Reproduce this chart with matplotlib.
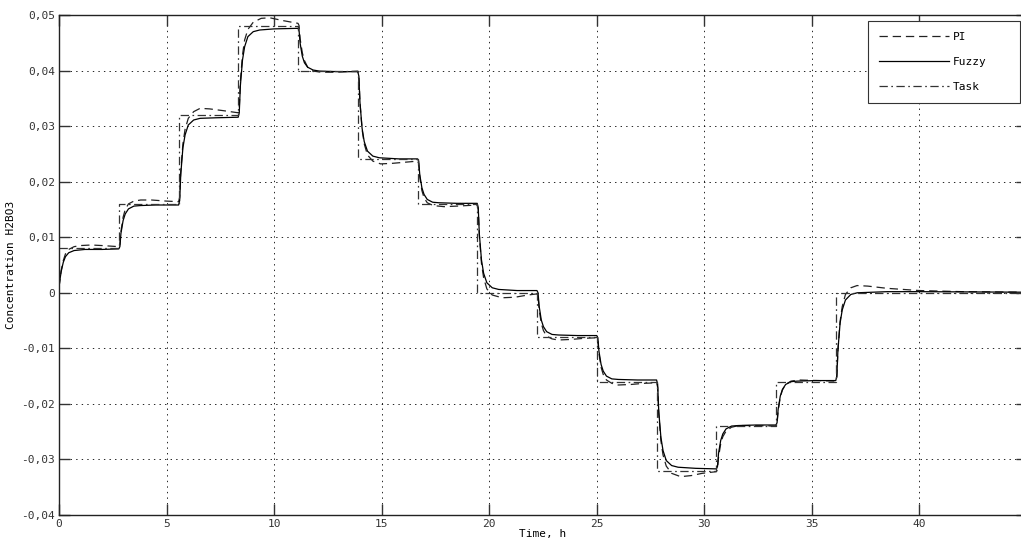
import numpy as np
import matplotlib
matplotlib.use("Agg")
import matplotlib.pyplot as plt
from matplotlib.ticker import FuncFormatter, MultipleLocator

# --- Data ---
TASK_TIME = [0.0, 2.78, 5.56, 8.33, 11.11, 13.89, 16.67, 19.44, 22.22,
             25.0, 27.78, 30.56, 33.33, 36.11, 45.0]
TASK_LEVEL = [0.008, 0.016, 0.032, 0.048, 0.040, 0.024, 0.016, 0.0, -0.008,
              -0.016, -0.032, -0.024, -0.016, 0.0, 0.0]

FUZZY_POINTS = [
    (0.0, 0.0010), (0.05, 0.0025), (0.1, 0.0038), (0.2, 0.0055), (0.3, 0.0065),
    (0.45, 0.0072), (0.7, 0.0076), (1.2, 0.0078), (2.0, 0.0078), (2.78, 0.0079),
    (2.83, 0.0083), (2.88, 0.0107), (2.98, 0.0130), (3.08, 0.0142), (3.23, 0.0151),
    (3.48, 0.0156), (3.78, 0.0157), (4.5, 0.0158), (5.56, 0.0158),
    (5.61, 0.0166), (5.66, 0.0213), (5.76, 0.0261), (5.86, 0.0284), (6.01, 0.0302),
    (6.26, 0.0311), (6.56, 0.0314), (7.3, 0.0315), (8.33, 0.0316),
    (8.38, 0.0324), (8.43, 0.0372), (8.53, 0.0419), (8.63, 0.0443), (8.78, 0.0461),
    (9.03, 0.0470), (9.33, 0.0473), (10.0, 0.0475), (11.11, 0.0476),
    (11.16, 0.0472), (11.21, 0.0449), (11.31, 0.0426), (11.41, 0.0414), (11.56, 0.0406),
    (11.81, 0.0401), (12.11, 0.0399), (13.0, 0.0398), (13.89, 0.0398),
    (13.94, 0.0390), (13.99, 0.0343), (14.09, 0.0296), (14.19, 0.0272), (14.34, 0.0255),
    (14.59, 0.0246), (14.89, 0.0243), (15.8, 0.0241), (16.67, 0.0241),
    (16.72, 0.0237), (16.77, 0.0213), (16.87, 0.0189), (16.97, 0.0177), (17.12, 0.0168),
    (17.37, 0.0163), (17.67, 0.0162), (18.5, 0.0161), (19.44, 0.0161),
    (19.49, 0.0153), (19.54, 0.0106), (19.64, 0.0059), (19.74, 0.0035), (19.89, 0.0018),
    (20.14, 0.0009), (20.44, 0.0006), (21.3, 0.0004), (22.22, 0.0004),
    (22.27, 0.0000), (22.32, -0.0024), (22.42, -0.0049), (22.52, -0.0061), (22.67, -0.0070),
    (22.92, -0.0075), (23.22, -0.0076), (24.1, -0.0077), (25.0, -0.0077),
    (25.05, -0.0081), (25.10, -0.0105), (25.20, -0.0129), (25.30, -0.0141), (25.45, -0.0150),
    (25.70, -0.0155), (26.0, -0.0156), (26.9, -0.0157), (27.78, -0.0157),
    (27.83, -0.0165), (27.88, -0.0213), (27.98, -0.0260), (28.08, -0.0284), (28.23, -0.0302),
    (28.48, -0.0311), (28.78, -0.0314), (29.6, -0.0316), (30.56, -0.0317),
    (30.61, -0.0313), (30.66, -0.0289), (30.76, -0.0266), (30.86, -0.0254), (31.01, -0.0245),
    (31.26, -0.0240), (31.56, -0.0239), (32.4, -0.0238), (33.33, -0.0238),
    (33.38, -0.0234), (33.43, -0.0210), (33.53, -0.0186), (33.63, -0.0174), (33.78, -0.0165),
    (34.03, -0.0160), (34.33, -0.0159), (35.2, -0.0158), (36.11, -0.0158),
    (36.16, -0.0150), (36.21, -0.0103), (36.31, -0.0055), (36.41, -0.0031), (36.56, -0.0013),
    (36.81, -0.0003), (37.11, 0.0000), (38.5, 0.0002), (40.0, 0.0002), (45.0, 0.0001),
]

PI_POINTS = [
    (0.0, 0.0010), (0.05, 0.0026), (0.1, 0.0040), (0.2, 0.0058), (0.3, 0.0070),
    (0.45, 0.0078), (0.7, 0.0083), (1.0, 0.0085), (1.5, 0.0086), (2.0, 0.0085), (2.78, 0.0083),
    (2.83, 0.0087), (2.88, 0.0110), (2.98, 0.0136), (3.08, 0.0150), (3.23, 0.0160),
    (3.48, 0.0165), (3.8, 0.0167), (4.3, 0.0167), (5.0, 0.0165), (5.56, 0.0164),
    (5.61, 0.0172), (5.66, 0.0218), (5.76, 0.0268), (5.86, 0.0294), (6.01, 0.0314),
    (6.26, 0.0326), (6.56, 0.0332), (7.0, 0.0331), (7.6, 0.0328), (8.33, 0.0324),
    (8.38, 0.0332), (8.43, 0.0380), (8.53, 0.0428), (8.63, 0.0455), (8.78, 0.0474),
    (9.03, 0.0487), (9.4, 0.0494), (9.8, 0.0495), (10.4, 0.0490), (11.11, 0.0485),
    (11.16, 0.0481), (11.21, 0.0457), (11.31, 0.0432), (11.41, 0.0418), (11.56, 0.0406),
    (11.81, 0.0399), (12.2, 0.0397), (12.8, 0.0397), (13.4, 0.0398), (13.89, 0.0399),
    (13.94, 0.0391), (13.99, 0.0344), (14.09, 0.0294), (14.19, 0.0268), (14.34, 0.0248),
    (14.59, 0.0237), (14.95, 0.0232), (15.5, 0.0233), (16.1, 0.0235), (16.67, 0.0237),
    (16.72, 0.0233), (16.77, 0.0209), (16.87, 0.0184), (16.97, 0.0171), (17.12, 0.0162),
    (17.4, 0.0157), (17.9, 0.0155), (18.5, 0.0156), (19.44, 0.0158),
    (19.49, 0.0150), (19.54, 0.0103), (19.64, 0.0053), (19.74, 0.0027), (19.89, 0.0007),
    (20.14, -0.0004), (20.6, -0.0009), (21.2, -0.0008), (21.8, -0.0004), (22.22, -0.0002),
    (22.27, -0.0006), (22.32, -0.0030), (22.42, -0.0055), (22.52, -0.0068), (22.67, -0.0078),
    (22.92, -0.0083), (23.2, -0.0085), (23.8, -0.0084), (24.4, -0.0082), (25.0, -0.0081),
    (25.05, -0.0085), (25.10, -0.0109), (25.20, -0.0134), (25.30, -0.0147), (25.45, -0.0157),
    (25.70, -0.0163), (26.0, -0.0166), (26.6, -0.0165), (27.2, -0.0163), (27.78, -0.0162),
    (27.83, -0.0170), (27.88, -0.0217), (27.98, -0.0266), (28.08, -0.0292), (28.23, -0.0312),
    (28.48, -0.0325), (28.9, -0.0331), (29.4, -0.0329), (29.9, -0.0325), (30.56, -0.0322),
    (30.61, -0.0318), (30.66, -0.0296), (30.76, -0.0272), (30.86, -0.0259), (31.01, -0.0249),
    (31.26, -0.0242), (31.6, -0.0239), (32.2, -0.0239), (33.33, -0.0240),
    (33.38, -0.0236), (33.43, -0.0213), (33.53, -0.0188), (33.63, -0.0175), (33.78, -0.0165),
    (34.03, -0.0159), (34.4, -0.0157), (35.2, -0.0158), (36.11, -0.0159),
    (36.16, -0.0151), (36.21, -0.0104), (36.31, -0.0052), (36.41, -0.0025), (36.56, -0.0003),
    (36.81, 0.0009), (37.1, 0.0013), (37.6, 0.0012), (38.5, 0.0008), (40.0, 0.0004),
    (42.0, 0.0002), (45.0, 0.0001),
]

FONT = "DejaVu Sans Mono"
plt.rcParams["lines.scale_dashes"] = False


def comma_fmt(v, pos):
    v = round(v, 4)
    if v == 0:
        return "0"
    return ("%g" % v).replace(".", ",")


def main():
    fig = plt.figure(figsize=(10.21, 5.44), dpi=100)
    # the axes runs slightly past the right edge of the picture, as in the reference
    ax = fig.add_axes([59 / 1021, 1 - 515 / 544, 968 / 1021, 500 / 544])

    pi = np.array(PI_POINTS)
    fz = np.array(FUZZY_POINTS)

    ax.plot(pi[:, 0], pi[:, 1], color="#222222", lw=0.9, dashes=(6, 3.5), label="PI")
    ax.plot(fz[:, 0], fz[:, 1], color="black", lw=0.9, label="Fuzzy")
    ax.plot(TASK_TIME, TASK_LEVEL, color="#333333", lw=0.9, drawstyle="steps-post",
            dashes=(6, 2.5, 1.2, 2.5), label="Task")

    ax.set_xlim(0, 45)
    ax.set_ylim(-0.04, 0.05)
    ax.xaxis.set_major_locator(MultipleLocator(5))
    ax.yaxis.set_major_locator(MultipleLocator(0.01))
    ax.yaxis.set_major_formatter(FuncFormatter(comma_fmt))

    ax.grid(True, color="black", linestyle=(0, (1, 3)), linewidth=0.6)
    ax.tick_params(direction="in", length=8, width=1, top=True, right=True,
                   labelsize=8, colors="#333333", pad=3)
    for lab in ax.get_xticklabels() + ax.get_yticklabels():
        lab.set_family(FONT)
    for sp in ax.spines.values():
        sp.set_linewidth(1.0)
        sp.set_color("#222222")

    ax.set_xlabel("Time, h", family=FONT, fontsize=8, labelpad=0)
    ax.set_ylabel("Concentration H2BO3", family=FONT, fontsize=8, labelpad=4)

    # legend box stretched to the reference's width (x 868..1020 px)
    leg = ax.legend(loc="upper left", mode="expand",
                    bbox_to_anchor=(868 / 1021, 1 - 99 / 544, 152 / 1021, 78 / 544),
                    bbox_transform=fig.transFigure, borderaxespad=0, fancybox=False,
                    framealpha=1, edgecolor="#333333", handlelength=6.3, labelspacing=1.35,
                    borderpad=1.0, handletextpad=0.3, prop={"family": FONT, "size": 8})
    leg.get_frame().set_linewidth(0.8)

    fig.savefig("out.png", dpi=100)


if __name__ == "__main__":
    main()
